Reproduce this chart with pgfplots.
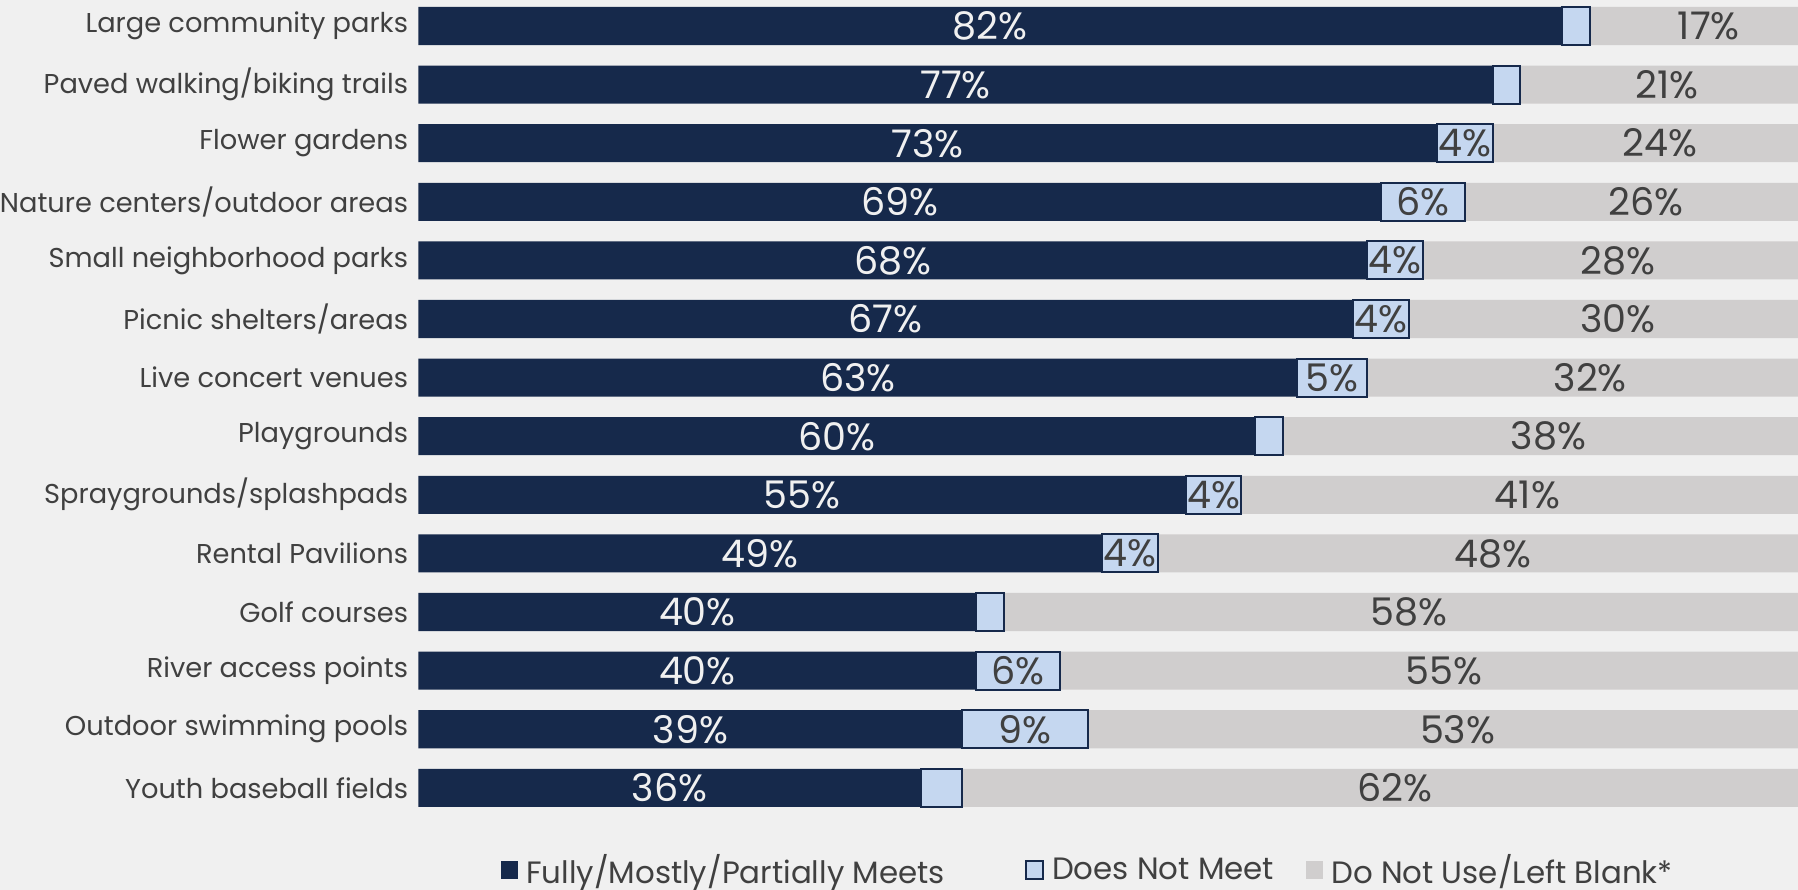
\documentclass[border=0pt]{standalone}
\usepackage{pgfplots}
\pgfplotsset{compat=1.18}
\usepackage{pgfplotstable}
\usepackage{fontspec}
\setmainfont{Poppins}
\usetikzlibrary{backgrounds}
\definecolor{navy}{HTML}{16294B}
\definecolor{lblue}{HTML}{C5D7F0}
\definecolor{lgrey}{HTML}{D0CECE}
\definecolor{bg}{HTML}{F0F0F0}
\definecolor{txt}{HTML}{404040}
\pgfplotstableread{
y meets dnm dnml other
0 82 2 {} 17
1 77 2 {} 21
2 73 4 4\% 24
3 69 6 6\% 26
4 68 4 4\% 28
5 67 4 4\% 30
6 63 5 5\% 32
7 60 2 {} 38
8 55 4 4\% 41
9 49 4 4\% 48
10 40 2 {} 58
11 40 6 6\% 55
12 39 9 9\% 53
13 36 3 {} 62
}\data
\begin{document}
\begin{tikzpicture}[background rectangle/.style={fill=bg}, show background rectangle, inner frame sep=0pt]
\begin{axis}[
  name=ax, at={(0,0)}, anchor=south west,
  scale only axis, width=351.91pt, height=203.9pt,
  xbar stacked, bar width=9.5pt,
  xmin=0, xmax=101.1, clip=false,
  ymin=-0.444, ymax=13.5, y dir=reverse,
  axis line style={draw=none}, tick style={draw=none}, major tick length=0pt,
  xtick=\empty,
  ytick={0,...,13},
  yticklabels={Large community parks, Paved walking/biking trails, Flower gardens, Nature centers/outdoor areas, Small neighborhood parks, Picnic shelters/areas, Live concert venues, Playgrounds, Spraygrounds/splashpads, Rental Pavilions, Golf courses, River access points, Outdoor swimming pools, Youth baseball fields},
  yticklabel style={font=\fontsize{6.8}{8}\selectfont, text=txt, inner sep=0pt, xshift=-2.4pt},
  legend style={at={(0.48912,-0.0886)}, xshift=-4.3pt, anchor=south, legend columns=3, draw=none, fill=none, inner sep=0pt, outer sep=0pt,
    nodes={inner ysep=0pt},
    font=\fontsize{7.7}{9}\selectfont, text=txt,
    /tikz/column 2/.style={column sep=18pt}, /tikz/column 4/.style={column sep=6pt}},
  legend image code/.code={\draw[#1] (0pt,-1.7pt) rectangle (4.25pt,2.8pt);},
  /pgf/number format/assume math mode=true,
  every node near coord/.append style={anchor=center, font=\fontsize{9.5}{11}\selectfont},
]
\addplot[fill=navy, draw=none, point meta=explicit,
  nodes near coords={\pgfmathprintnumber{\pgfplotspointmeta}\%},
  every node near coord/.append style={text=bg},
  legend image code/.code={\fill[navy] (0pt,-1.7pt) rectangle (4.25pt,2.8pt);}]
  table[x=meets, y=y, meta=meets] {\data};
\addlegendentry{Fully/Mostly/Partially Meets}
\addplot[fill=lblue, draw=navy, line width=0.5pt, point meta=explicit symbolic,
  nodes near coords={\pgfplotspointmeta},
  every node near coord/.append style={text=txt}]
  table[x=dnm, y=y, meta=dnml] {\data};
\addlegendentry{Does Not Meet}
\addplot[fill=lgrey, draw=none, point meta=explicit,
  nodes near coords={\pgfmathprintnumber{\pgfplotspointmeta}\%},
  every node near coord/.append style={text=txt},
  legend image code/.code={\fill[lgrey] (0pt,-1.7pt) rectangle (4.25pt,2.8pt);}]
  table[x=other, y=y, meta=other] {\data};
\addlegendentry{Do Not Use/Left Blank*}
\end{axis}
\pgfresetboundingbox
\path[use as bounding box] (ax.outer south west) rectangle (344.25pt,203.9pt);
\end{tikzpicture}
\end{document}
